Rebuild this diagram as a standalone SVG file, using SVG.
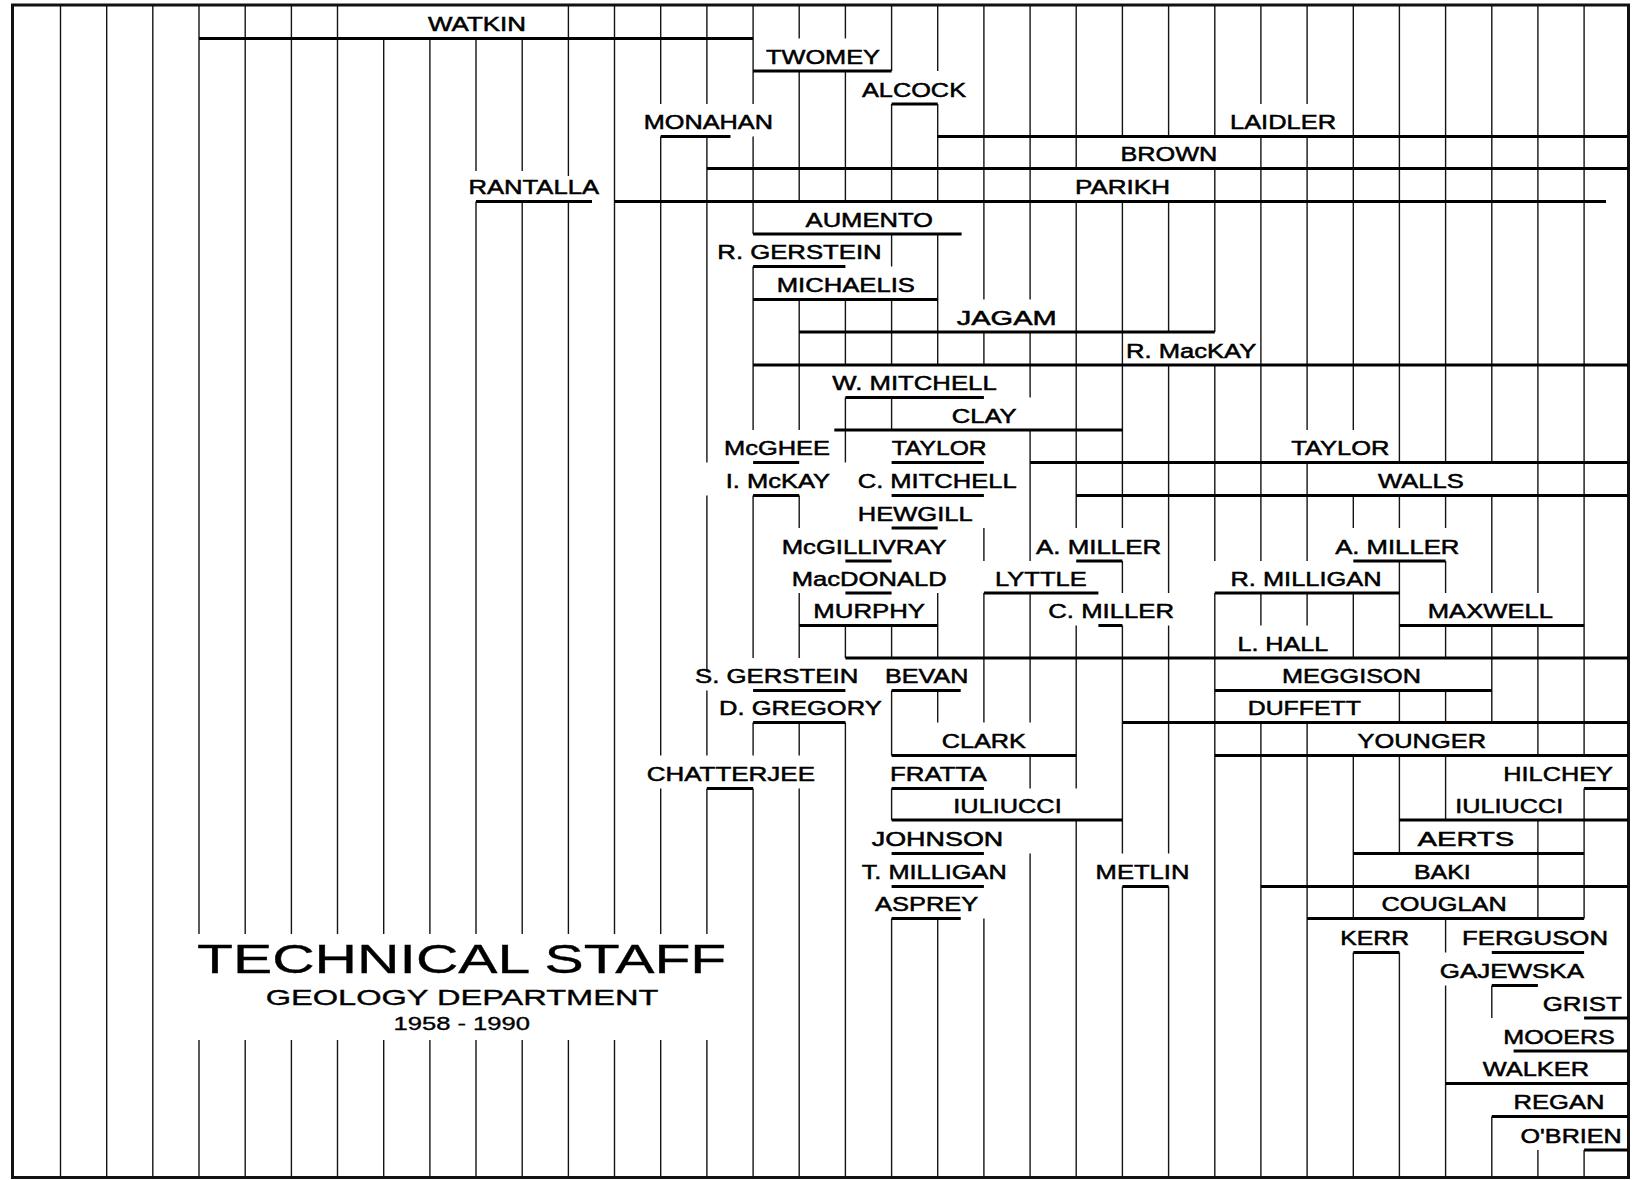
<svg xmlns="http://www.w3.org/2000/svg" width="1633" height="1180" viewBox="0 0 1633 1180">
<style>
.g{stroke:#141414;stroke-width:1.4;fill:none}
.b{stroke:#000;stroke-width:3;fill:none}
.f{stroke:#111;stroke-width:3;fill:none}
.t{font-family:"Liberation Sans",Arial,sans-serif;font-size:20px;fill:#000;stroke:#000;stroke-width:0.5}
.h{font-family:"Liberation Sans",Arial,sans-serif;fill:#000;stroke:#000;stroke-width:0.35}
</style>
<rect x="0" y="0" width="1633" height="1180" fill="#fff"/>
<g id="connectors">
<path class="g" d="M60.5 5V1177M106.7 5V1177M152.8 5V1177
M199 5V934M199 1040V1177M245.2 5V934M245.2 1040V1177M291.4 5V934M291.4 1040V1177M337.5 5V934M337.5 1040V1177
M383.7 38.5V934M383.7 1040V1177M429.9 38.5V934M429.9 1040V1177
M476 38.5V171M476 201.5V934M476 1040V1177
M522.2 38.5V171M522.2 201.5V934M522.2 1040V1177
M568.4 5V176M568.4 201.5V934M568.4 1040V1177
M614.5 5V934M614.5 1040V1177
M660.7 5V104M660.7 136.5V755.5M660.7 788.5V934M660.7 1040V1177
M706.9 5V104M706.9 136.5V462.5M706.9 495.5V672M706.9 690.5V755.5M706.9 788.5V934M706.9 1040V1177
M753.1 5V104M753.1 136.5V234M753.1 266.5V430M753.1 495.5V658M753.1 722.5V755.5M753.1 788.5V1177
M799.2 5V38.5M799.2 71V201.5M799.2 299.5V430M799.2 495.5V528M799.2 593V658M799.2 722.5V755.5M799.2 788.5V1177
M845.4 5V38.5M845.4 71V201.5M845.4 299.5V365M845.4 397.5V462.5M845.4 625.5V658M845.4 722.5V1177
M891.6 5V71M891.6 104V201.5M891.6 234V266.5M891.6 299.5V365M891.6 397.5V430M891.6 625.5V658M891.6 690.5V755.5M891.6 788.5V820M891.6 918.5V1177
M937.7 5V71M937.7 104V201.5M937.7 234V365M937.7 593V658M937.7 690.5V722.5M937.7 918.5V1177
M983.9 5V299.5M983.9 332V365M983.9 528V561M983.9 593V722.5M983.9 918.5V1177
M1030.1 5V299.5M1030.1 332V397.5M1030.1 430V561M1030.1 593V722.5M1030.1 755.5V788.5M1030.1 853.5V1177
M1076.2 5V168.5M1076.2 201.5V528M1076.2 625.5V788.5M1076.2 820V1177
M1122.4 5V136.5M1122.4 201.5V528M1122.4 561V593M1122.4 625.5V853.5M1122.4 886.5V1177
M1168.6 5V136.5M1168.6 201.5V332M1168.6 365V593M1168.6 625.5V853.5M1168.6 886.5V1177
M1214.8 5V136.5M1214.8 168.5V332M1214.8 365V561M1214.8 593V1177
M1260.9 5V104M1260.9 136.5V561M1260.9 593V625.5M1260.9 722.5V1177
M1307.1 5V104M1307.1 136.5V430M1307.1 462.5V561M1307.1 593V625.5M1307.1 722.5V1177
M1353.3 5V430M1353.3 495.5V528M1353.3 593V658M1353.3 755.5V918.5M1353.3 952.5V1177
M1399.4 5V462.5M1399.4 495.5V528M1399.4 561V658M1399.4 690.5V722.5M1399.4 755.5V853.5M1399.4 952.5V1177
M1445.6 5V462.5M1445.6 495.5V528M1445.6 561V593M1445.6 625.5V658M1445.6 690.5V722.5M1445.6 755.5V820M1445.6 918.5V952.5M1445.6 985.5V1177
M1491.8 5V462.5M1491.8 495.5V593M1491.8 625.5V722.5M1491.8 985.5V1018M1491.8 1116.5V1177
M1537.9 5V593M1537.9 625.5V755.5M1537.9 820V918.5M1537.9 1150V1177
M1584.1 5V755.5M1584.1 788.5V918.5M1584.1 1150V1177"/>
</g>
<rect id="frame" class="f" x="12.5" y="5" width="1616" height="1172.5"/>
<g id="watkin"><path class="b" d="M199 38.5H753.1"/><text class="t" x="428" y="31" textLength="98" lengthAdjust="spacingAndGlyphs">WATKIN</text></g>
<g id="twomey"><path class="b" d="M753.1 71H891.6"/><text class="t" x="766" y="63.5" textLength="114" lengthAdjust="spacingAndGlyphs">TWOMEY</text></g>
<g id="alcock"><path class="b" d="M891.6 104H937.7"/><text class="t" x="862" y="96.5" textLength="104" lengthAdjust="spacingAndGlyphs">ALCOCK</text></g>
<g id="monahan"><path class="b" d="M660.7 136.5H730.5"/><text class="t" x="643.7" y="129" textLength="129.3" lengthAdjust="spacingAndGlyphs">MONAHAN</text></g>
<g id="laidler"><path class="b" d="M937.7 136.5H1628"/><text class="t" x="1230" y="129" textLength="106" lengthAdjust="spacingAndGlyphs">LAIDLER</text></g>
<g id="brown"><path class="b" d="M706.9 168.5H1628"/><text class="t" x="1120.4" y="161" textLength="96.9" lengthAdjust="spacingAndGlyphs">BROWN</text></g>
<g id="rantalla"><path class="b" d="M476 201.5H592"/><text class="t" x="468.5" y="194" textLength="130.5" lengthAdjust="spacingAndGlyphs">RANTALLA</text></g>
<g id="parikh"><path class="b" d="M614.5 201.5H1606"/><text class="t" x="1075" y="194" textLength="95" lengthAdjust="spacingAndGlyphs">PARIKH</text></g>
<g id="aumento"><path class="b" d="M753.1 234H961.6"/><text class="t" x="805.6" y="226.5" textLength="127.4" lengthAdjust="spacingAndGlyphs">AUMENTO</text></g>
<g id="r-gerstein"><path class="b" d="M753.1 266.5H845.4"/><text class="t" x="717.3" y="259" textLength="164.4" lengthAdjust="spacingAndGlyphs">R. GERSTEIN</text></g>
<g id="michaelis"><path class="b" d="M753.1 299.5H937.7"/><text class="t" x="776.7" y="292" textLength="138.3" lengthAdjust="spacingAndGlyphs">MICHAELIS</text></g>
<g id="jagam"><path class="b" d="M799.2 332H1214.8"/><text class="t" x="956.7" y="324.5" textLength="100" lengthAdjust="spacingAndGlyphs">JAGAM</text></g>
<g id="r-mackay"><path class="b" d="M753.1 365H1628"/><text class="t" x="1126" y="357.5" textLength="130.3" lengthAdjust="spacingAndGlyphs">R. MacKAY</text></g>
<g id="w-mitchell"><path class="b" d="M845.4 397.5H983.9"/><text class="t" x="832.3" y="390" textLength="164.4" lengthAdjust="spacingAndGlyphs">W. MITCHELL</text></g>
<g id="clay"><path class="b" d="M834.3 430H1122.4"/><text class="t" x="951.7" y="422.5" textLength="65" lengthAdjust="spacingAndGlyphs">CLAY</text></g>
<g id="mcghee"><path class="b" d="M753.1 462.5H799.2"/><text class="t" x="724" y="455" textLength="106" lengthAdjust="spacingAndGlyphs">McGHEE</text></g>
<g id="taylor-1"><path class="b" d="M891.6 462.5H983.9"/><text class="t" x="891.7" y="455" textLength="95" lengthAdjust="spacingAndGlyphs">TAYLOR</text></g>
<g id="taylor-2"><path class="b" d="M1030.1 462.5H1628"/><text class="t" x="1291.3" y="455" textLength="98.1" lengthAdjust="spacingAndGlyphs">TAYLOR</text></g>
<g id="i-mckay"><path class="b" d="M753.1 495.5H799.2"/><text class="t" x="725.7" y="488" textLength="104.3" lengthAdjust="spacingAndGlyphs">I. McKAY</text></g>
<g id="c-mitchell"><path class="b" d="M891.6 495.5H983.9"/><text class="t" x="857.7" y="488" textLength="159" lengthAdjust="spacingAndGlyphs">C. MITCHELL</text></g>
<g id="walls"><path class="b" d="M1076.2 495.5H1628"/><text class="t" x="1378" y="488" textLength="85.8" lengthAdjust="spacingAndGlyphs">WALLS</text></g>
<g id="hewgill"><path class="b" d="M891.6 528H937.7"/><text class="t" x="857.7" y="520.5" textLength="115" lengthAdjust="spacingAndGlyphs">HEWGILL</text></g>
<g id="mcgillivray"><path class="b" d="M845.4 561H891.6"/><text class="t" x="781.7" y="553.5" textLength="165" lengthAdjust="spacingAndGlyphs">McGILLIVRAY</text></g>
<g id="a-miller-1"><path class="b" d="M1076.2 561H1122.4"/><text class="t" x="1036" y="553.5" textLength="125.2" lengthAdjust="spacingAndGlyphs">A. MILLER</text></g>
<g id="a-miller-2"><path class="b" d="M1353.3 561H1445.6"/><text class="t" x="1335.2" y="553.5" textLength="124.2" lengthAdjust="spacingAndGlyphs">A. MILLER</text></g>
<g id="macdonald"><path class="b" d="M845.4 593H891.6"/><text class="t" x="791.7" y="585.5" textLength="155" lengthAdjust="spacingAndGlyphs">MacDONALD</text></g>
<g id="lyttle"><path class="b" d="M983.9 593H1098.4"/><text class="t" x="995" y="585.5" textLength="91.7" lengthAdjust="spacingAndGlyphs">LYTTLE</text></g>
<g id="r-milligan"><path class="b" d="M1214.8 593H1399.4"/><text class="t" x="1230.5" y="585.5" textLength="151" lengthAdjust="spacingAndGlyphs">R. MILLIGAN</text></g>
<g id="murphy"><path class="b" d="M799.2 625.5H937.7"/><text class="t" x="813.3" y="618" textLength="111.7" lengthAdjust="spacingAndGlyphs">MURPHY</text></g>
<g id="c-miller"><path class="b" d="M1098.4 625.5H1122.4"/><text class="t" x="1048.3" y="618" textLength="125.7" lengthAdjust="spacingAndGlyphs">C. MILLER</text></g>
<g id="maxwell"><path class="b" d="M1399.4 625.5H1584.1"/><text class="t" x="1427.8" y="618" textLength="125.2" lengthAdjust="spacingAndGlyphs">MAXWELL</text></g>
<g id="l-hall"><path class="b" d="M845.4 658H1628"/><text class="t" x="1237.4" y="650.5" textLength="90.9" lengthAdjust="spacingAndGlyphs">L. HALL</text></g>
<g id="s-gerstein"><path class="b" d="M753.1 690.5H845.4"/><text class="t" x="695" y="683" textLength="163.3" lengthAdjust="spacingAndGlyphs">S. GERSTEIN</text></g>
<g id="bevan"><path class="b" d="M891.6 690.5H960.7"/><text class="t" x="885" y="683" textLength="83.3" lengthAdjust="spacingAndGlyphs">BEVAN</text></g>
<g id="meggison"><path class="b" d="M1214.8 690.5H1491.8"/><text class="t" x="1282" y="683" textLength="139" lengthAdjust="spacingAndGlyphs">MEGGISON</text></g>
<g id="d-gregory"><path class="b" d="M753.1 722.5H845.4"/><text class="t" x="719" y="715" textLength="162.7" lengthAdjust="spacingAndGlyphs">D. GREGORY</text></g>
<g id="duffett"><path class="b" d="M1122.4 722.5H1628"/><text class="t" x="1247.7" y="715" textLength="113.2" lengthAdjust="spacingAndGlyphs">DUFFETT</text></g>
<g id="clark"><path class="b" d="M891.6 755.5H1076.2"/><text class="t" x="941.7" y="748" textLength="84.3" lengthAdjust="spacingAndGlyphs">CLARK</text></g>
<g id="younger"><path class="b" d="M1214.8 755.5H1628"/><text class="t" x="1357.5" y="748" textLength="128.5" lengthAdjust="spacingAndGlyphs">YOUNGER</text></g>
<g id="chatterjee"><path class="b" d="M706.9 788.5H753.1"/><text class="t" x="646.7" y="781" textLength="168.3" lengthAdjust="spacingAndGlyphs">CHATTERJEE</text></g>
<g id="fratta"><path class="b" d="M891.6 788.5H983.9"/><text class="t" x="890" y="781" textLength="96.7" lengthAdjust="spacingAndGlyphs">FRATTA</text></g>
<g id="hilchey"><path class="b" d="M1584.1 788.5H1628"/><text class="t" x="1503.3" y="781" textLength="109.7" lengthAdjust="spacingAndGlyphs">HILCHEY</text></g>
<g id="iuliucci-1"><path class="b" d="M891.6 820H1122.4"/><text class="t" x="953.3" y="812.5" textLength="108.4" lengthAdjust="spacingAndGlyphs">IULIUCCI</text></g>
<g id="iuliucci-2"><path class="b" d="M1399.4 820H1628"/><text class="t" x="1455.3" y="812.5" textLength="108" lengthAdjust="spacingAndGlyphs">IULIUCCI</text></g>
<g id="johnson"><path class="b" d="M891.6 853.5H983.9"/><text class="t" x="871.7" y="846" textLength="131.6" lengthAdjust="spacingAndGlyphs">JOHNSON</text></g>
<g id="aerts"><path class="b" d="M1353.3 853.5H1584.1"/><text class="t" x="1417.5" y="846" textLength="96.8" lengthAdjust="spacingAndGlyphs">AERTS</text></g>
<g id="t-milligan"><path class="b" d="M891.6 886.5H983.9"/><text class="t" x="861.7" y="879" textLength="145" lengthAdjust="spacingAndGlyphs">T. MILLIGAN</text></g>
<g id="metlin"><path class="b" d="M1122.4 886.5H1168.6"/><text class="t" x="1095.6" y="879" textLength="93.8" lengthAdjust="spacingAndGlyphs">METLIN</text></g>
<g id="baki"><path class="b" d="M1260.9 886.5H1628"/><text class="t" x="1414" y="879" textLength="56.7" lengthAdjust="spacingAndGlyphs">BAKI</text></g>
<g id="asprey"><path class="b" d="M891.6 918.5H960.7"/><text class="t" x="875" y="911" textLength="103.3" lengthAdjust="spacingAndGlyphs">ASPREY</text></g>
<g id="couglan"><path class="b" d="M1307.1 918.5H1584.1"/><text class="t" x="1381.5" y="911" textLength="125.2" lengthAdjust="spacingAndGlyphs">COUGLAN</text></g>
<g id="kerr"><path class="b" d="M1353.3 952.5H1399.4"/><text class="t" x="1340.3" y="945" textLength="68.7" lengthAdjust="spacingAndGlyphs">KERR</text></g>
<g id="ferguson"><path class="b" d="M1491.8 952.5H1584.1"/><text class="t" x="1462" y="945" textLength="146" lengthAdjust="spacingAndGlyphs">FERGUSON</text></g>
<g id="gajewska"><path class="b" d="M1491.8 985.5H1537.9"/><text class="t" x="1439.8" y="978" textLength="144.2" lengthAdjust="spacingAndGlyphs">GAJEWSKA</text></g>
<g id="grist"><path class="b" d="M1584.1 1018H1628"/><text class="t" x="1542.7" y="1010.5" textLength="79" lengthAdjust="spacingAndGlyphs">GRIST</text></g>
<g id="mooers"><path class="b" d="M1513.6 1051H1628"/><text class="t" x="1503.3" y="1043.5" textLength="111.5" lengthAdjust="spacingAndGlyphs">MOOERS</text></g>
<g id="walker"><path class="b" d="M1445.6 1083.5H1628"/><text class="t" x="1482.7" y="1076" textLength="106.3" lengthAdjust="spacingAndGlyphs">WALKER</text></g>
<g id="regan"><path class="b" d="M1491.8 1116.5H1628"/><text class="t" x="1513.6" y="1109" textLength="90.9" lengthAdjust="spacingAndGlyphs">REGAN</text></g>
<g id="obrien"><path class="b" d="M1584.1 1150H1628"/><text class="t" x="1520.5" y="1142.5" textLength="101.2" lengthAdjust="spacingAndGlyphs">O'BRIEN</text></g>
<g id="title">
<text class="h" x="197" y="972.7" font-size="41" textLength="529.3" lengthAdjust="spacingAndGlyphs">TECHNICAL STAFF</text>
<text class="h" x="265.7" y="1005" font-size="22" textLength="392.7" lengthAdjust="spacingAndGlyphs">GEOLOGY DEPARTMENT</text>
<text class="h" x="393.5" y="1030" font-size="18.5" textLength="136.5" lengthAdjust="spacingAndGlyphs">1958 - 1990</text>
</g>
</svg>
